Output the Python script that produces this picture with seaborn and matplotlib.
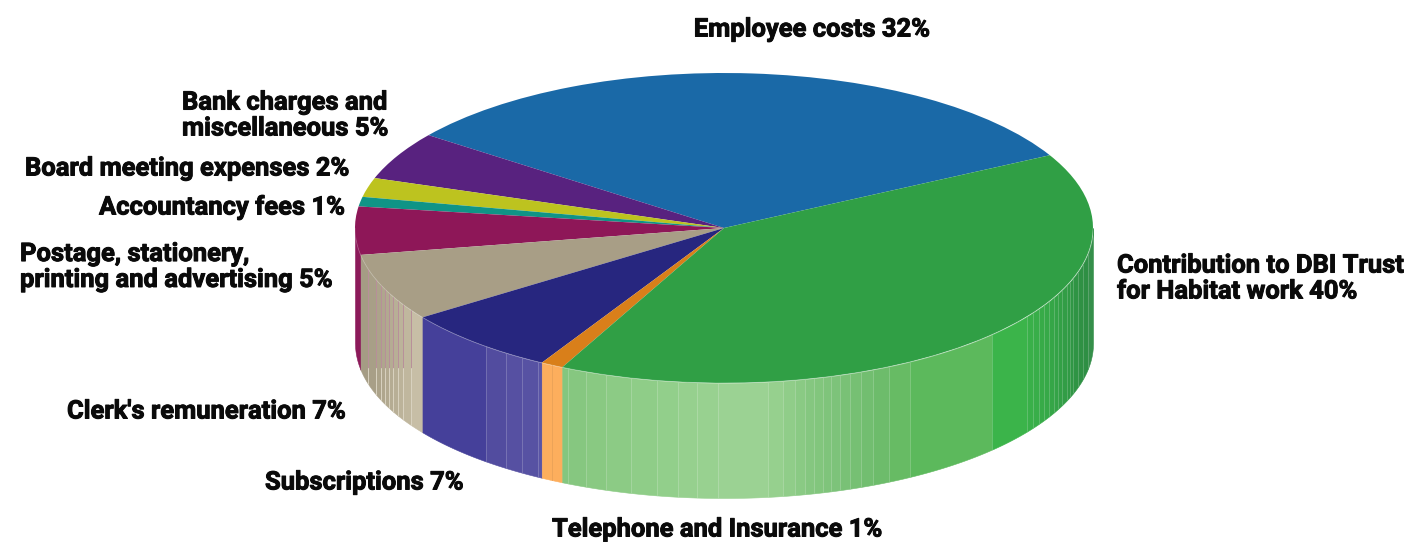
import numpy as np
import matplotlib
matplotlib.use("Agg")
import matplotlib.pyplot as plt
import matplotlib.patheffects as pe
import seaborn as sns

# Expenditure shares, in percent, running anticlockwise from the employee slice
categories = [
    "Employee costs", "Bank charges and\nmiscellaneous", "Board meeting expenses",
    "Accountancy fees", "Postage, stationery,\nprinting and advertising",
    "Clerk's remuneration", "Subscriptions", "Telephone and Insurance",
    "Contribution to DBI Trust\nfor Habitat work",
]
shares = [32, 5, 2, 1, 5, 7, 7, 1, 40]

top_colours = ["#1a69a7", "#58227f", "#bdc31f", "#0f9486", "#8e1758",
               "#a89e86", "#27267f", "#d97f1a", "#309f45"]

# Rim shading per slice: (right-hand pixel edge of the band, colour); the last band runs to the slice end
rim_bands = {
    4: [(400, "#8c1a5a")],
    5: [(368, "#a59c84"), (376, "#a89f87"), (381, "#aca38a"), (385, "#afa68d"),
        (389, "#b2a990"), (393, "#b5ac93"), (398, "#b8af96"), (403, "#bcb39a"),
        (411, "#c0b79e"), (440, "#c7bea6")],
    6: [(486, "#45409a"), (506, "#524c9f"), (522, "#5650a2"), (538, "#5752a3"), (600, "#5a55a5")],
    7: [(552, "#fdae5d"), (600, "#fdae5d")],
    8: [(568, "#84c67f"), (586, "#86c780"), (606, "#89c982"), (631, "#8ccb85"),
        (657, "#8fcd88"), (678, "#92cf8b"), (697, "#96d08e"), (718, "#98d190"),
        (768, "#9bd293"), (783, "#96d08e"), (795, "#90cd89"), (805, "#8aca84"),
        (814, "#85c780"), (823, "#82c67d"), (831, "#7fc47b"), (840, "#7dc37a"),
        (850, "#79c176"), (861, "#76c073"), (873, "#72be70"), (889, "#6dbc6b"),
        (910, "#67bb64"), (992, "#5cb95c"), (1027, "#3bb44a"), (1033, "#39b049"),
        (1039, "#38ae49"), (1044, "#37ab48"), (1049, "#36a948"), (1054, "#35a647"),
        (1058, "#34a347"), (1062, "#33a046"), (1067, "#329d46"), (1070, "#319a45"),
        (1073, "#309745"), (1078, "#2f9444"), (1083, "#2f9144"), (1088, "#2e8f44"),
        (1100, "#358f4a")],
}

# Label text anchors in figure pixels: (x, y, horizontal alignment)
label_anchors = [(812, 29.5, "center"), (182, 115.5, "left"), (25, 168.5, "left"),
                 (99, 207.5, "left"), (20, 267, "left"), (67, 411.5, "left"),
                 (265, 482.5, "left"), (552, 529.5, "left"), (1117, 278.5, "left")]

WIDTH, HEIGHT = 1411, 542
CX, CY, RX, RY, DEPTH_PX = 724, 228, 369, 155, 115
START_ANGLE = 28
depth = DEPTH_PX / RY


def px_x(px):
    return (px - CX) / RX


def px_y(py):
    return (CY - py) / RY


sns.set_theme(style="white")
plt.rcParams["font.family"] = ["Roboto", "DejaVu Sans"]
palette = sns.color_palette(top_colours)

fig = plt.figure(figsize=(WIDTH / 100, HEIGHT / 100), dpi=100)
ax = fig.add_axes([0, 0, 1, 1])

# Cumulative slice boundaries in degrees
edges = START_ANGLE + np.concatenate([[0], np.cumsum(shares)]) * 3.6

# Cylinder rim: only the part of each slice facing the viewer
for i, bands in rim_bands.items():
    a0 = max(edges[i], 180.0)
    a1 = min(edges[i + 1], 360.0)
    xa, xb = np.cos(np.radians(a0)), np.cos(np.radians(a1))
    left = xa
    for right_px, colour in bands:
        right = min(px_x(right_px), xb)
        if right <= left:
            continue
        xs = np.linspace(left, right, 30)
        top = -np.sqrt(np.clip(1 - xs**2, 0, None))
        ax.fill_between(xs, top, top - depth, color=colour, lw=0.4, zorder=1)
        # thin seam between neighbouring shading bands
        if right < xb:
            seam_top = -np.sqrt(max(1 - right**2, 0))
            if i == 5:
                ax.plot([right, right], [seam_top, px_y(368)], color="#b88f9a",
                        lw=0.7, zorder=2)
                ax.plot([right, right], [px_y(368), seam_top - depth], color="#d9d2c0",
                        lw=0.7, zorder=2)
            elif i == 7:
                ax.plot([right, right], [seam_top, seam_top - depth], color="#e09a50",
                        alpha=0.6, lw=0.7, zorder=2)
            else:
                ax.plot([right, right], [seam_top, seam_top - depth], color="white",
                        alpha=0.16, lw=0.7, zorder=2)
        left = right

wedges, _ = ax.pie(shares, colors=palette, startangle=START_ANGLE, radius=1,
                   counterclock=True, wedgeprops={"linewidth": 0, "zorder": 3})

# Faint highlight where the top face meets the rim
arc = np.radians(np.linspace(180, 360, 400))
ax.plot(np.cos(arc), np.sin(arc), color="white", alpha=0.25, lw=0.6, zorder=4)

ax.set_aspect("auto")
ax.set_xlim(px_x(0), px_x(WIDTH))
ax.set_ylim(px_y(HEIGHT), px_y(0))
ax.axis("off")

# Slight outline gives the labels a heavier weight
heavy = [pe.withStroke(linewidth=0.7, foreground="#0a0a0a")]
for name, share, (x, y, ha) in zip(categories, shares, label_anchors):
    ax.text(px_x(x), px_y(y), f"{name} {share}%", ha=ha, va="center", fontsize=18.4,
            fontweight="bold", color="#0a0a0a", linespacing=1.1, zorder=5,
            path_effects=heavy)

fig.savefig("out.png", dpi=100)
